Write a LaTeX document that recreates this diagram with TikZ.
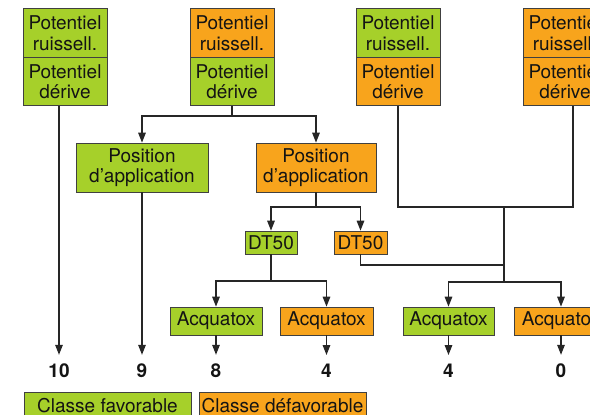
\documentclass[tikz,border=0pt]{standalone}
\usepackage{fontspec}
\setmainfont{TeX Gyre Heros}
\usetikzlibrary{arrows.meta}
\definecolor{grn}{RGB}{166,208,42}
\definecolor{org}{RGB}{248,164,28}
\tikzset{
  box/.style={draw=black!75, line width=0.6pt, inner sep=0pt, align=center,
    font=\fontsize{19}{20.5}\selectfont, text=black!92},
  gr/.style={box, fill=grn},
  og/.style={box, fill=org},
  pbox/.style={minimum width=84pt, minimum height=48.5pt},
  conn/.style={line width=1.25pt, draw=black!85},
  arr/.style={conn, -{Triangle[length=10pt,width=7.5pt]}},
  numarr/.style={arr, shorten >=9pt},
  num/.style={font=\bfseries\fontsize{19}{20}\selectfont, inner sep=0pt, text=black!92}
}
\begin{document}
\begin{tikzpicture}[x=1pt,y=-1pt]
\useasboundingbox (0,0) rectangle (590,415);
\clip (0,0) rectangle (590,415);
% top boxes
\node[gr, pbox] (b1r) at (65,33) {Potentiel\\ruissell.};
\node[gr, pbox] (b1d) at (65,81.5) {Potentiel\\dérive};
\node[og, pbox] (b2r) at (232,33) {Potentiel\\ruissell.};
\node[gr, pbox] (b2d) at (232,81.5) {Potentiel\\dérive};
\node[gr, pbox] (b3r) at (398,33) {Potentiel\\ruissell.};
\node[og, pbox] (b3d) at (398,81.5) {Potentiel\\dérive};
\node[og, pbox] (b4r) at (565,33) {Potentiel\\ruissell.};
\node[og, pbox] (b4d) at (565,81.5) {Potentiel\\dérive};
% position
\node[gr, minimum width=132pt, minimum height=49pt] (pg) at (142,167.5) {Position\\d’application};
\node[og, minimum width=120pt, minimum height=49pt] (po) at (316,167.5) {Position\\d’application};
% DT50
\node[gr, minimum width=52pt, minimum height=23pt] (dg) at (271,242.5) {DT50};
\node[og, minimum width=53pt, minimum height=23pt] (do) at (360.5,242.5) {DT50};
% Acquatox
\node[gr, minimum width=92pt, minimum height=28pt] (a1) at (216,321) {Acquatox};
\node[og, minimum width=93pt, minimum height=28pt] (a2) at (326.5,321) {Acquatox};
\node[gr, minimum width=91pt, minimum height=28pt] (a3) at (448.5,321) {Acquatox};
\node[og, minimum width=94pt, minimum height=28pt] (a4) at (561,321) {Acquatox};
% numbers
\node[num] (n10) at (59,371) {10};
\node[num] (n9) at (142,371) {9};
\node[num] (n8) at (216,371) {8};
\node[num] (n4a) at (326.5,371) {4};
\node[num] (n4b) at (448.5,371) {4};
\node[num] (n0) at (561,371) {0};
% legend
\node[gr, minimum width=167pt, minimum height=28pt] (lf) at (107.5,406) {Classe favorable};
\node[og, minimum width=167pt, minimum height=28pt] (ld) at (282.5,406) {Classe défavorable};
% junctions
\coordinate (j2) at (232,116);
\coordinate (j3) at (316,207);
\coordinate (j4) at (271,281);
\coordinate (j6) at (504,207);
\coordinate (j7) at (504,282);
\coordinate (j8) at (504,265);
% connectors
\draw[numarr] (n10 |- b1d.south) -- (n10.north);
\draw[conn] (b2d.south) -- (j2);
\draw[arr] (j2) -| (pg.north);
\draw[arr] (j2) -| (po.north);
\draw[numarr] (pg.south) -- (n9.north);
\draw[conn] (po.south) -- (j3);
\draw[arr] (j3) -| (dg.north);
\draw[arr] (j3) -| (do.north);
\draw[conn] (dg.south) -- (j4);
\draw[arr] (j4) -| (a1.north);
\draw[arr] (j4) -| (a2.north);
\draw[conn] (b3d.south) |- (j6) -| ([xshift=8pt]b4d.south);
\draw[conn] (j6) -- (j7);
\draw[conn] (do.south) |- (j8);
\draw[arr] (j7) -| (a3.north);
\draw[arr] (j7) -| (a4.north);
\draw[numarr] (a1.south) -- (n8.north);
\draw[numarr] (a2.south) -- (n4a.north);
\draw[numarr] (a3.south) -- (n4b.north);
\draw[numarr] (a4.south) -- (n0.north);
\end{tikzpicture}
\end{document}
